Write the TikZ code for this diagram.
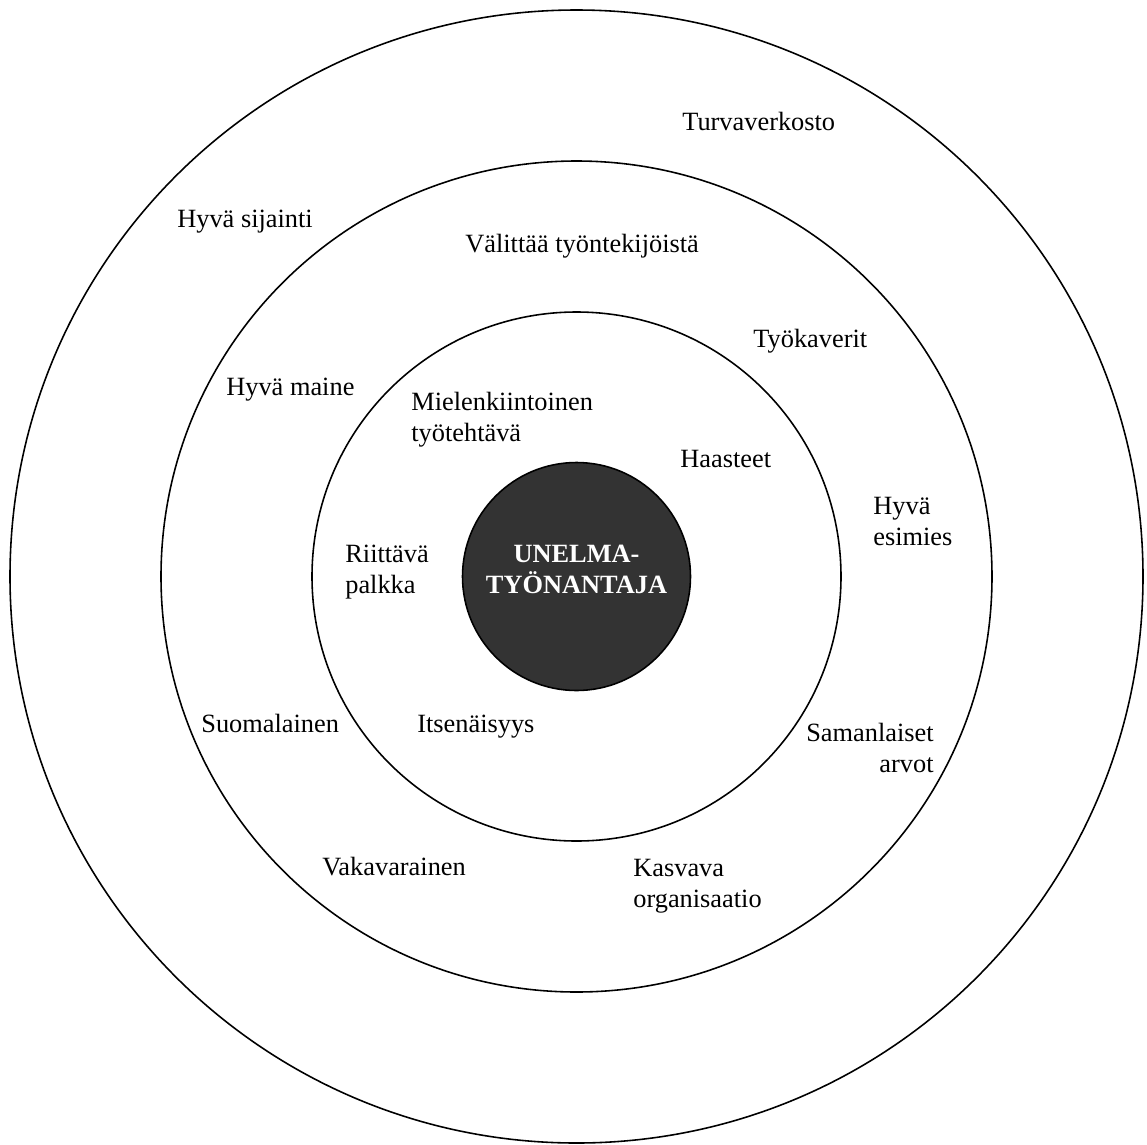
\documentclass[tikz,border=0pt]{standalone}
\usepackage{fontspec}
\setmainfont{Liberation Serif}
\begin{document}
\begin{tikzpicture}
  \useasboundingbox (0,0) rectangle (22.94,-22.88);
  \coordinate (mid) at (11.53,-11.53);

  \begin{scope}[line width=0.9pt]
    \draw (mid) circle (11.33);
    \draw (mid) circle (8.31);
    \draw (mid) circle (5.29);
    \draw [fill=black!80] (mid) circle (2.28);
  \end{scope}

  \begin{scope}[every node/.style={inner sep=0pt, anchor=base west, align=left, font=\fontsize{15}{17.6}\selectfont}]
    \node (0) at (11.53,-11.86) [anchor=base, align=center, text=white, font=\fontsize{15}{17.6}\selectfont\bfseries] {UNELMA-\\TYÖNANTAJA};
    \node (1) at (8.22,-8.82) {Mielenkiintoinen\\työtehtävä};
    \node (2) at (13.60,-9.34) {Haasteet};
    \node (3) at (6.90,-11.86) {Riittävä\\palkka};
    \node (4) at (8.34,-14.64) {Itsenäisyys};
    \node (5) at (9.30,-5.04) {Välittää työntekijöistä};
    \node (6) at (15.06,-6.94) {Työkaverit};
    \node (7) at (4.52,-7.90) {Hyvä maine};
    \node (8) at (17.46,-10.90) {Hyvä\\esimies};
    \node (9) at (4.02,-14.64) {Suomalainen};
    \node (10) at (18.68,-15.44) [anchor=base east, align=right] {Samanlaiset\\arvot};
    \node (11) at (6.44,-17.50) {Vakavarainen};
    \node (12) at (12.66,-18.14) {Kasvava\\organisaatio};
    \node (13) at (13.64,-2.60) {Turvaverkosto};
    \node (14) at (3.54,-4.54) {Hyvä sijainti};
  \end{scope}
\end{tikzpicture}
\end{document}
